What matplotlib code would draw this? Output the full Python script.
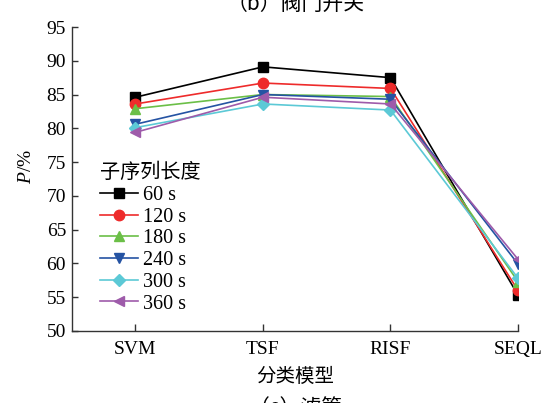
import matplotlib
matplotlib.use("Agg")
import matplotlib.pyplot as plt

plt.rcParams["mathtext.fontset"] = "custom"
plt.rcParams["mathtext.it"] = "Liberation Serif:italic"
plt.rcParams["mathtext.rm"] = "Liberation Serif"

models = ["SVM", "TSF", "RISF", "SEQL"]
labels = ["60 s", "120 s", "180 s", "240 s", "300 s", "360 s"]
s60 = [84.6, 89.1, 87.5, 55.3]
s120 = [83.6, 86.7, 85.9, 56.0]
s180 = [82.9, 85.0, 84.7, 57.3]
s240 = [80.6, 85.0, 84.3, 59.9]
s300 = [80.1, 83.6, 82.7, 57.8]
s360 = [79.4, 84.6, 83.6, 60.6]
series = [s60, s120, s180, s240, s300, s360]
colors = ["#000000", "#EE2B2B", "#6BBF47", "#2553A3", "#5CC9D6", "#9E5BAA"]
markers = ["s", "o", "^", "v", "D", "<"]
msizes = [6.5, 7.5, 7.5, 7.5, 6, 7.5]
yticks = [50, 55, 60, 65, 70, 75, 80, 85, 90, 95]

serif = ["Liberation Serif", "DejaVu Serif"]
cjk = ["Noto Sans CJK SC", "DejaVu Sans"]

fig = plt.figure(figsize=(5.6, 4.03), dpi=100)
ax = fig.add_axes([0.128, 0.179, 0.797, 0.754])
x = list(range(len(models)))
for vals, lab, c, m, ms in zip(series, labels, colors, markers, msizes):
    ax.plot(x, vals, color=c, marker=m, markersize=ms, linewidth=1.2, label=lab)

ax.set_xlim(-0.5, 3)
ax.set_ylim(50, 95)
ax.set_yticks(yticks)
ax.set_xticks(x)
ax.set_xticklabels(models)
for s in ["top", "right"]:
    ax.spines[s].set_visible(False)
for s in ["left", "bottom"]:
    ax.spines[s].set_linewidth(1.0)
    ax.spines[s].set_color("#333333")
ax.tick_params(axis="y", direction="in", length=4, width=1, colors="#333333",
               labelcolor="black", pad=4)
ax.tick_params(axis="x", direction="in", length=5, width=1, colors="#333333",
               labelcolor="black", pad=7)
for t in ax.get_xticklabels() + ax.get_yticklabels():
    t.set_fontfamily(serif)
    t.set_fontsize(14)

ax.set_xlabel("分类模型", family=cjk, fontsize=14, labelpad=6)
ax.set_ylabel("$P$/%", family=serif, fontsize=14)
ax.yaxis.set_label_coords(-0.082, 0.54)

leg = ax.legend(loc="upper left", bbox_to_anchor=(0.064, 0.555), frameon=False,
                prop={"family": serif, "size": 14.5}, handlelength=1.85,
                handletextpad=0.25, labelspacing=0.13, borderaxespad=0.0,
                borderpad=0.0,
                title="子序列长度", title_fontproperties={"family": cjk, "size": 14.5})
leg._legend_box.align = "left"

fig.text(0.527, 1 - 10 / 403, "（b）阀门开关", family=cjk, fontsize=15,
         ha="center", va="baseline")
fig.text(0.527, 1 - 398 / 403, "（c）滤管", family=cjk, fontsize=15,
         ha="center", va="top")

fig.savefig("out.png", dpi=100)
